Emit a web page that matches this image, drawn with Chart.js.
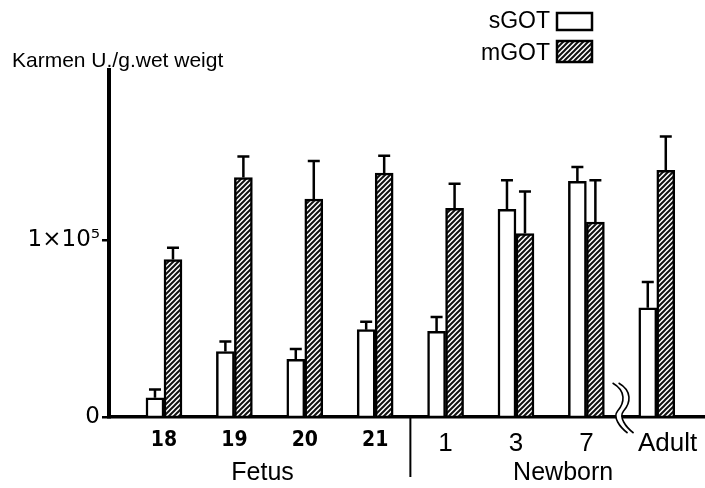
<!DOCTYPE html>
<html>
<head>
<meta charset="utf-8">
<script src="https://cdn.jsdelivr.net/npm/chart.js@4.4.0/dist/chart.umd.min.js"></script>
<style>
  html, body { margin: 0; padding: 0; background: #fff; }
  #wrap { width: 705px; height: 488px; }
</style>
</head>
<body>
<div id="wrap"><canvas id="chart" width="705" height="488"></canvas></div>
<script>
// Categories (days of age)
const groups = ['18', '19', '20', '21', '1', '3', '7', 'Adult'];

// Karmen U./g wet weight
const sGOT = [10900, 37000, 32600, 49400, 48400, 117500, 133300, 61800];
const sGOTErr = [4700, 5700, 5800, 4500, 8100, 16400, 8100, 14500];
const mGOT = [89100, 135500, 123300, 138000, 118100, 103800, 110300, 139500];
const mGOTErr = [6600, 11900, 21500, 9800, 13800, 23800, 23600, 19200];

// y ticks and their labels
const yTicks = [0, 100000];
const yTickText = ['0', '1×10⁵'];

// Bottom group captions
const periods = ['Fetus', 'Newborn'];

const FONT = "'Liberation Sans', Arial, sans-serif";

// Diagonal hatch for mGOT
function makeHatch() {
    const c = document.createElement('canvas');
    c.width = 5; c.height = 5;
    const g = c.getContext('2d');
    g.fillStyle = '#fff';
    g.fillRect(0, 0, 5, 5);
    g.strokeStyle = '#111';
    g.lineWidth = 2;
    g.beginPath();
    g.moveTo(-1, 6); g.lineTo(6, -1);
    g.moveTo(-1, 1); g.lineTo(1, -1);
    g.moveTo(4, 6); g.lineTo(6, 4);
    g.stroke();
    return g.createPattern(c, 'repeat');
}
const hatch = makeHatch();

// Upper error bars
const errorBars = {
    id: 'errorBars',
    afterDatasetsDraw(chart) {
        const { ctx, scales: { y } } = chart;
        ctx.save();
        ctx.strokeStyle = '#000';
        ctx.lineWidth = 2.5;
        chart.data.datasets.forEach((ds, di) => {
            const meta = chart.getDatasetMeta(di);
            meta.data.forEach((bar, i) => {
                const top = y.getPixelForValue(ds.data[i].y + ds.errors[i]);
                ctx.beginPath();
                ctx.moveTo(bar.x, bar.y);
                ctx.lineTo(bar.x, top);
                ctx.moveTo(bar.x - 6, top);
                ctx.lineTo(bar.x + 6, top);
                ctx.stroke();
            });
        });
        ctx.restore();
    }
};

// Title, legend, period captions, divider, axis break
const decorations = {
    id: 'decorations',
    afterDraw(chart) {
        const { ctx, scales: { x, y } } = chart;
        const base = y.getPixelForValue(0);
        ctx.save();
        ctx.fillStyle = '#000';

        // y unit
        ctx.font = '21px ' + FONT;
        ctx.textAlign = 'left';
        ctx.textBaseline = 'alphabetic';
        ctx.fillText('Karmen U./g.wet weigt', 12, 67);

        // legend: text then box
        const ds = chart.data.datasets;
        ctx.font = '23px ' + FONT;
        ctx.textAlign = 'right';
        [[ds[0], 13, 17, 28], [ds[1], 41, 21, 60]].forEach(([d, top, h, bl]) => {
            ctx.fillStyle = '#000';
            ctx.fillText(d.label, 550, bl);
            ctx.fillStyle = d.backgroundColor;
            ctx.fillRect(557, top, 35, h);
            ctx.strokeStyle = '#000';
            ctx.lineWidth = 2.5;
            ctx.strokeRect(557, top, 35, h);
        });

        // divider between fetus and newborn
        const dx = x.getPixelForValue(3.5);
        ctx.strokeStyle = '#000';
        ctx.lineWidth = 2;
        ctx.beginPath();
        ctx.moveTo(dx, base);
        ctx.lineTo(dx, 477);
        ctx.stroke();

        // period captions
        ctx.fillStyle = '#000';
        ctx.font = '25px ' + FONT;
        ctx.textAlign = 'center';
        ctx.textBaseline = 'alphabetic';
        ctx.fillText(periods[0], x.getPixelForValue(1.4), 480);
        ctx.fillText(periods[1], x.getPixelForValue(5.67), 480);

        // axis break squiggle
        const cx = x.getPixelForValue(6.5);
        const path = (off) => {
            ctx.beginPath();
            ctx.moveTo(cx - 6 + off, base - 34);
            ctx.bezierCurveTo(cx + 8 + off, base - 26, cx + 6 + off, base - 14, cx - 1 + off, base - 6);
            ctx.bezierCurveTo(cx - 6 + off, base, cx + 1 + off, base + 10, cx + 9 + off, base + 16);
        };
        ctx.strokeStyle = '#fff';
        ctx.lineWidth = 6;
        path(0);
        ctx.stroke();
        ctx.strokeStyle = '#000';
        ctx.lineWidth = 1.6;
        path(-3);
        ctx.stroke();
        path(3);
        ctx.stroke();

        ctx.restore();
    }
};

new Chart(document.getElementById('chart'), {
    type: 'bar',
    data: {
        datasets: [
            {
                label: 'sGOT',
                data: sGOT.map((v, i) => ({ x: i, y: v })),
                errors: sGOTErr,
                backgroundColor: '#fff',
                borderColor: '#000',
                borderWidth: 2.5,
                barThickness: 18
            },
            {
                label: 'mGOT',
                data: mGOT.map((v, i) => ({ x: i, y: v })),
                errors: mGOTErr,
                backgroundColor: hatch,
                borderColor: '#000',
                borderWidth: 2.5,
                barThickness: 18
            }
        ]
    },
    options: {
        responsive: false,
        animation: false,
        devicePixelRatio: 1,
        layout: { padding: { top: 70, right: 0, left: 0, bottom: 0 } },
        plugins: {
            legend: { display: false },
            tooltip: { enabled: false }
        },
        scales: {
            x: {
                type: 'linear',
                offset: false,
                min: -0.781,
                max: 7.685,
                afterFit: (s) => { s.height = 71; },
                afterBuildTicks: (s) => { s.ticks = groups.map((g, i) => ({ value: i })); },
                grid: { display: false, offset: false },
                border: { display: true, color: '#000', width: 3.5 },
                ticks: {
                    autoSkip: false,
                    maxRotation: 0,
                    padding: 3,
                    color: '#000',
                    font: (c) => (c.index < 4)
                        ? { family: "'DejaVu Sans'", size: 21, weight: 'bold condensed' }
                        : { family: FONT, size: 26 },
                    // Adult sits a little right of its bars, clear of the axis break
                    callback: (v, i) => i === groups.length - 1 ? '   ' + groups[i] : groups[i]
                }
            },
            y: {
                min: 0,
                max: 196300,
                afterFit: (s) => { s.width = 109; },
                afterBuildTicks: (s) => { s.ticks = yTicks.map(v => ({ value: v })); },
                grid: {
                    drawOnChartArea: false,
                    tickLength: 7,
                    lineWidth: 2.5,
                    color: '#000'
                },
                border: { display: true, color: '#000', width: 4 },
                ticks: {
                    autoSkip: false,
                    padding: 2,
                    color: '#000',
                    font: { family: "'DejaVu Sans', sans-serif", size: 23 },
                    callback: (v, i) => yTickText[i]
                }
            }
        }
    },
    plugins: [errorBars, decorations]
});
</script>
</body>
</html>
